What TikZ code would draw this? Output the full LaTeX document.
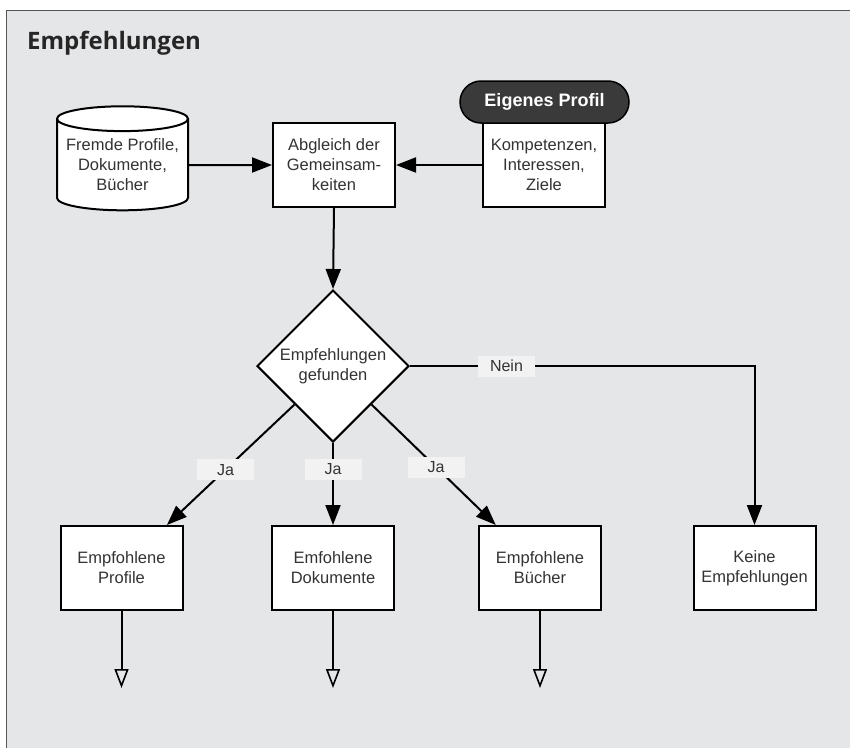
\documentclass[tikz,border=0pt]{standalone}
\usepackage{fontspec}
\setmainfont{Liberation Sans}
\newfontfamily\titelfont{Open Sans}
\usetikzlibrary{shapes.geometric,shapes.misc,arrows.meta,calc}

\definecolor{hgrund}{HTML}{E5E6E8}
\definecolor{rahmen}{HTML}{555555}
\definecolor{schrift}{HTML}{333333}
\definecolor{marke}{HTML}{F2F2F2}
\definecolor{profil}{HTML}{3A3A3A}

\tikzset{
  kasten/.style={draw, fill=white, line width=2pt, minimum width=122pt, minimum height=84pt,
    inner sep=0pt, align=center, text=schrift, font=\fontsize{16.5}{20}\selectfont},
  speicher/.style={kasten, cylinder, shape border rotate=90, aspect=0.22,
    minimum width=131pt, minimum height=104pt},
  raute/.style={kasten, diamond, aspect=1, minimum width=152pt, minimum height=152pt},
  pille/.style={rounded rectangle, draw=black, fill=profil, line width=1.5pt,
    minimum width=169pt, minimum height=42pt, inner sep=0pt, text=white,
    font=\bfseries\fontsize{18}{21}\selectfont},
  marke/.style={fill=marke, minimum width=57pt, minimum height=21pt, inner sep=0pt,
    text=schrift, font=\fontsize{16}{19}\selectfont},
  pfeil/.style={line width=2pt, -{Triangle[length=20pt,width=15pt]}},
  leer/.style={line width=2pt, -{Triangle[open,length=19pt,width=14pt,line width=1.6pt]}}
}

\begin{document}
\begin{tikzpicture}[x=1pt,y=-1pt]
  \useasboundingbox (0,0) rectangle (850,747);
  % Hintergrund mit Rand links und oben
  \fill[hgrund] (6,10) rectangle (851,748);
  \draw[rahmen, line width=1pt] (6,748) -- (6,10) -- (851,10);
  \node[anchor=base west, inner sep=0pt, text=black!85,
        font=\titelfont\bfseries\fontsize{24}{29}\selectfont] (titel) at (27,49) {Empfehlungen};

  % obere Reihe
  \node[speicher] (fremd) at (122.5,165) {Fremde Profile,\\Dokumente,\\B\"ucher};
  \node[kasten] (abgleich) at (334,165) {Abgleich der\\Gemeinsam-\\keiten};
  \node[kasten] (kompetenz) at (544,165) {Kompetenzen,\\Interessen,\\Ziele};
  \node[pille] (eigen) at (544.5,102) {Eigenes Profil};

  % Entscheidung
  \node[raute] (entscheid) at (333,366) {Empfehlungen\\gefunden};

  % untere Reihe
  \node[kasten] (prof) at (121.5,568) {Empfohlene\\Profile};
  \node[kasten] (doku) at (333,568) {Emfohlene\\Dokumente};
  \node[kasten] (buch) at (540,568) {Empfohlene\\B\"ucher};
  \node[kasten] (keine) at (754.5,568) {Keine\\Empfehlungen};

  \draw[pfeil] (fremd.east) -- (abgleich.west);
  \draw[pfeil] (kompetenz.west) -- (abgleich.east);
  \draw[pfeil] (abgleich.south) -- (entscheid.north);
  \draw[pfeil] ($(entscheid.south)!.5!(entscheid.west)$) -- (prof) node[marke, pos=.54] {Ja};
  \draw[pfeil] (entscheid.south) -- (doku.north) node[marke, pos=.32] {Ja};
  \draw[pfeil] ($(entscheid.south)!.5!(entscheid.east)$) -- (buch) node[marke, pos=.52] {Ja};
  \draw[pfeil] (entscheid.east) -| (keine.north) node[marke, pos=.14] {Nein};

  % offene Ausgaenge
  \foreach \n in {prof,doku,buch} {
    \path (\n.south) ++(0,77) coordinate (\n-aus);
    \draw[leer] (\n.south) -- (\n-aus);
  }
\end{tikzpicture}
\end{document}
